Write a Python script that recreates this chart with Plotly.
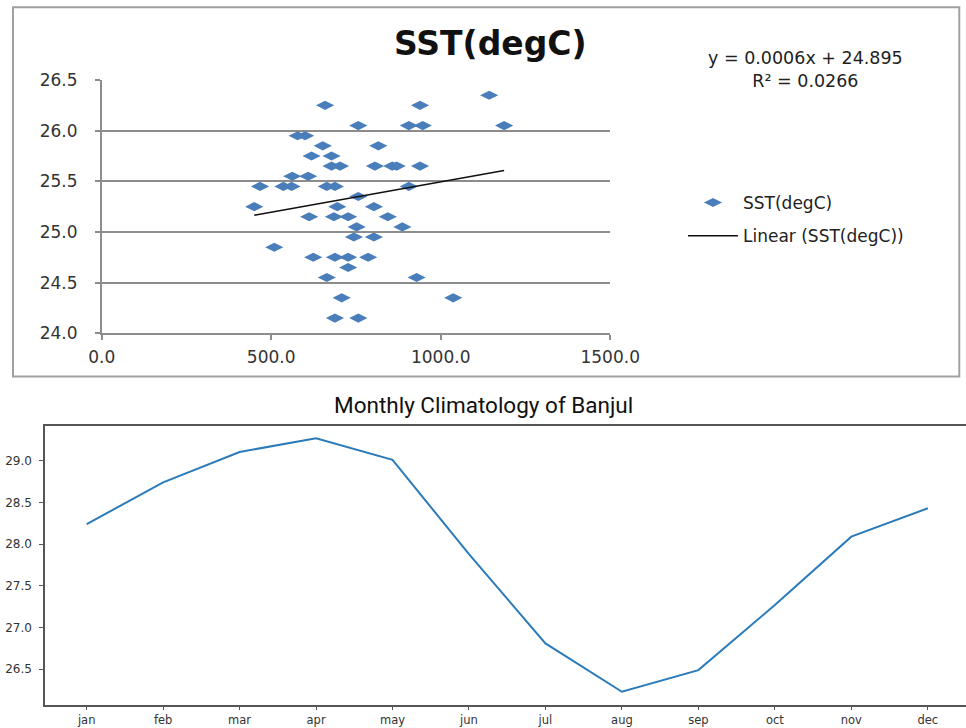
import plotly.graph_objects as go

# ---------------- data: top scatter (Excel style) ----------------
sst_x = [659, 939,
         1143,
         757, 906, 947, 1187,
         578, 600,
         652, 816,
         619, 678,
         678, 703, 806, 857, 870, 939,
         562, 609,
         467, 536, 560, 664, 688, 906,
         757,
         450, 695, 803,
         612, 685, 727, 844,
         752, 887,
         744, 803,
         509,
         624, 688, 727, 786,
         727,
         664, 929,
         708, 1037,
         688, 757]
sst_y = [26.25, 26.25,
         26.35,
         26.05, 26.05, 26.05, 26.05,
         25.95, 25.95,
         25.85, 25.85,
         25.75, 25.75,
         25.65, 25.65, 25.65, 25.65, 25.65, 25.65,
         25.55, 25.55,
         25.45, 25.45, 25.45, 25.45, 25.45, 25.45,
         25.35,
         25.25, 25.25, 25.25,
         25.15, 25.15, 25.15, 25.15,
         25.05, 25.05,
         24.95, 24.95,
         24.85,
         24.75, 24.75, 24.75, 24.75,
         24.65,
         24.55, 24.55,
         24.35, 24.35,
         24.15, 24.15]
trend_slope = 0.0006
trend_intercept = 24.895
x_ticks_top = [0, 500, 1000, 1500]
x_ticklabels_top = ["0.0", "500.0", "1000.0", "1500.0"]

# ---------------- data: bottom line (matplotlib style) ----------------
months = ["jan", "feb", "mar", "apr", "may", "jun",
          "jul", "aug", "sep", "oct", "nov", "dec"]
banjul_sst = [28.24, 28.74, 29.105, 29.27, 29.01, 27.88,
              26.81, 26.23, 26.49, 27.27, 28.09, 28.43]

W, H = 966, 728
def px(x):
    return x / W
def py(y):
    return 1 - y / H

trend_x = [min(sst_x), max(sst_x)]
trend_y = [trend_slope * v + trend_intercept for v in trend_x]

fig = go.Figure()
fig.add_trace(go.Scatter(
    x=sst_x, y=sst_y, mode="markers", name="SST(degC)",
    marker=dict(symbol="diamond-wide", size=13, color="#4a7ebb"),
    xaxis="x", yaxis="y", legendgroup="a"))
fig.add_trace(go.Scatter(
    x=trend_x, y=trend_y, mode="lines", name="Linear (SST(degC))",
    line=dict(color="#111111", width=1.5),
    xaxis="x", yaxis="y", legendgroup="b"))
fig.add_trace(go.Scatter(
    x=months, y=banjul_sst, mode="lines", showlegend=False,
    line=dict(color="#2b7bba", width=2),
    xaxis="x2", yaxis="y2"))

grey = "#8c8c8c"
top_font = dict(family="DejaVu Sans", size=17, color="#333333")
bot_font = dict(family="DejaVu Sans", size=12, color="#333333")

fig.update_layout(
    width=W, height=H, autosize=False,
    margin=dict(l=0, r=0, t=0, b=0, pad=0, autoexpand=False),
    paper_bgcolor="white", plot_bgcolor="white",
    showlegend=True,
    legend=dict(x=px(683), y=py(185), xanchor="left", yanchor="top",
                font=dict(family="DejaVu Sans", size=17, color="#222222"),
                bgcolor="rgba(0,0,0,0)", itemwidth=50,
                tracegroupgap=8, traceorder="grouped"),
    xaxis=dict(domain=[px(101.7), px(610.2)], range=[0, 1500],
               tickvals=x_ticks_top, ticktext=x_ticklabels_top,
               showgrid=False, zeroline=False, automargin=False,
               showline=True, linecolor=grey, linewidth=1.5,
               ticks="outside", ticklen=5, tickcolor=grey, tickwidth=1.5,
               tickfont=top_font, ticklabelstandoff=3,
               anchor="y", fixedrange=True),
    yaxis=dict(domain=[py(333.3), py(80)], range=[24, 26.5],
               dtick=0.5, tick0=24, tickformat=".1f",
               showgrid=True, gridcolor=grey, gridwidth=1.5,
               zeroline=False, automargin=False,
               showline=True, linecolor=grey, linewidth=1.5,
               ticks="outside", ticklen=5, tickcolor=grey, tickwidth=1.5,
               tickfont=top_font, ticklabelstandoff=14,
               anchor="x", fixedrange=True),
    xaxis2=dict(domain=[px(45), 1], range=[-0.545, 11.5],
                type="category",
                showgrid=False, zeroline=False, automargin=False,
                showline=True, mirror=True, linecolor="#555555", linewidth=1.5,
                ticks="outside", ticklen=3, tickcolor="#555555",
                tickfont=dict(family="DejaVu Sans", size=11.5, color="#333333"),
                ticklabelstandoff=0,
                anchor="y2", fixedrange=True),
    yaxis2=dict(domain=[py(705.3), py(425.7)], range=[26.068, 29.42],
                tickvals=[26.5, 27.0, 27.5, 28.0, 28.5, 29.0],
                tickformat=".1f",
                showgrid=False, zeroline=False, automargin=False,
                showline=True, linecolor="#555555", linewidth=1.5,
                ticks="outside", ticklen=4, tickcolor="#555555",
                tickfont=bot_font, ticklabelstandoff=5,
                anchor="x2", fixedrange=True),
    shapes=[dict(type="rect", xref="paper", yref="paper",
                 x0=px(13), x1=px(959.3), y0=py(376.5), y1=py(7.3),
                 line=dict(color="#a0a0a0", width=2), layer="below")],
    annotations=[
        dict(text="<b>SST(degC)</b>", x=px(490.5), y=py(43),
             xref="paper", yref="paper", showarrow=False,
             xanchor="center", yanchor="middle",
             font=dict(family="DejaVu Sans", size=33, color="#111111")),
        dict(text="y = 0.0006x + 24.895<br>R² = 0.0266", x=px(805), y=py(69),
             xref="paper", yref="paper", showarrow=False, align="center",
             xanchor="center", yanchor="middle",
             font=dict(family="DejaVu Sans", size=17.5, color="#222222")),
        dict(text="Monthly Climatology of Banjul", x=px(483.5), y=py(405),
             xref="paper", yref="paper", showarrow=False,
             xanchor="center", yanchor="middle",
             font=dict(family="Roboto", size=22.5, color="#111111")),
    ],
)

fig.write_html("out.html")
